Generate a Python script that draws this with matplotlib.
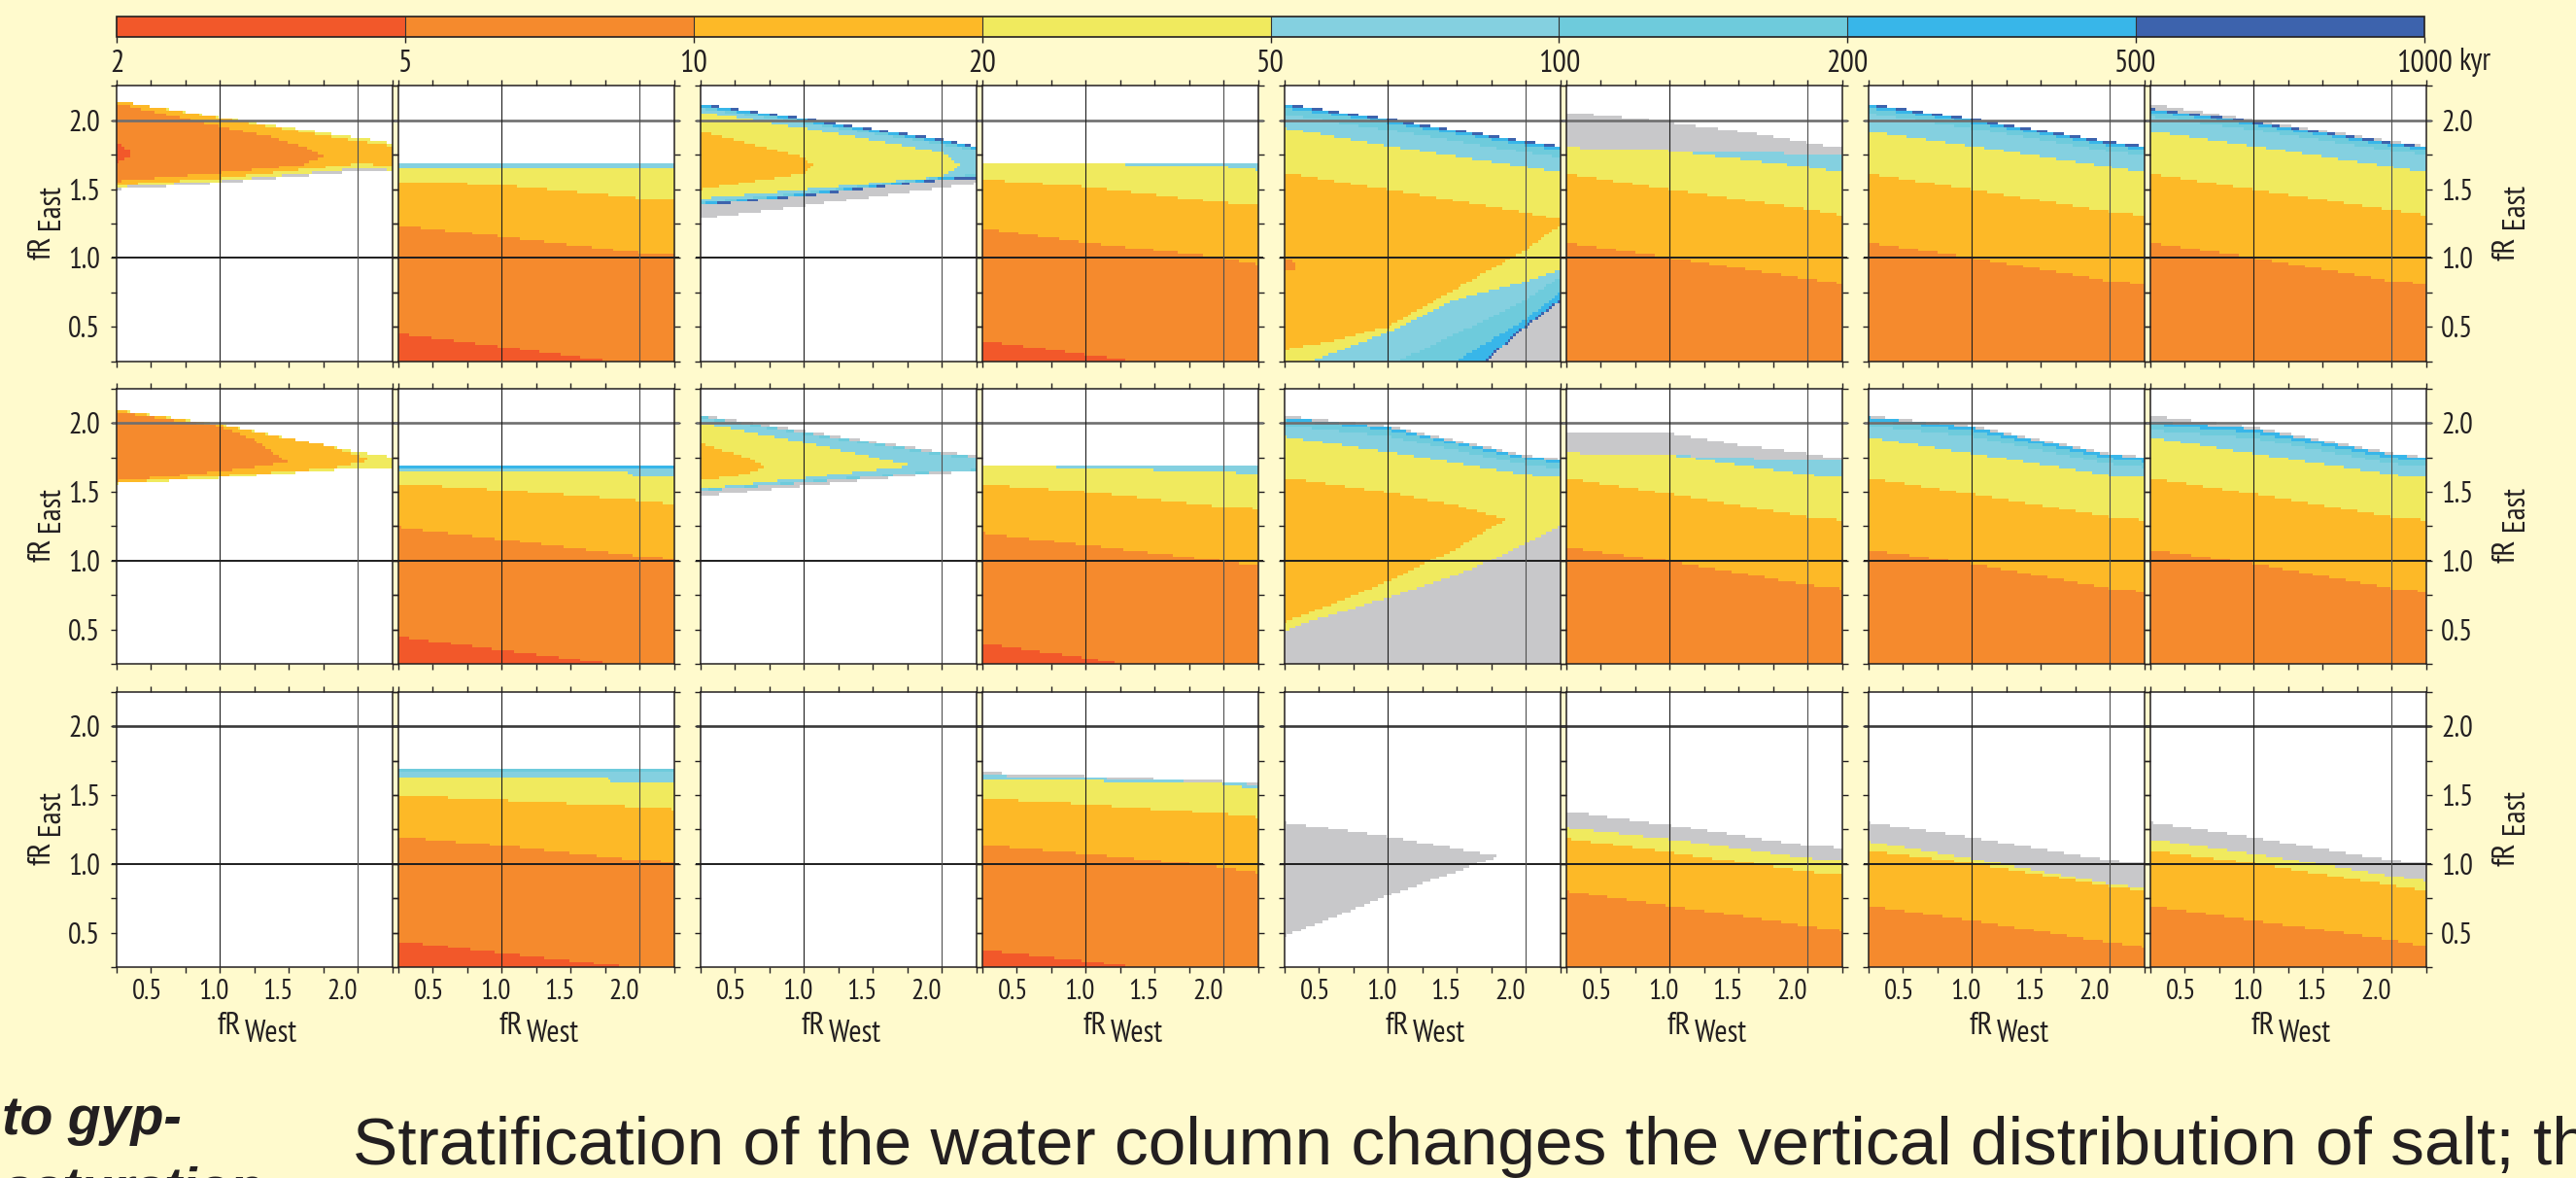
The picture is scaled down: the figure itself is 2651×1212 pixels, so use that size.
import numpy as np
import matplotlib
matplotlib.use("Agg")
import matplotlib.pyplot as plt
from matplotlib.colors import ListedColormap, BoundaryNorm
from matplotlib.cm import ScalarMappable
from matplotlib import font_manager as fm

# ---------------- data ----------------
levels = [2, 5, 10, 20, 50, 100, 200, 500, 1000]
level_labels = ["2", "5", "10", "20", "50", "100", "200", "500", "1000"]
level_colors = ["#F2582A", "#F58A2D", "#FDB927", "#F0EA5E",
                "#84D0E0", "#6ECBDC", "#38B6E9", "#3D63AD"]
gray_color = "#C8C8CA"
R, O, G, Y, LB, C, B, DB, GR = range(9)   # band codes (GR = gray)

xtick_vals = [0.5, 1.0, 1.5, 2.0]
xtick_labels = ["0.5", "1.0", "1.5", "2.0"]
ytick_vals = [0.5, 1.0, 1.5, 2.0]
ytick_labels = ["0.5", "1.0", "1.5", "2.0"]
XN = [0.25, 1.0, 2.0, 2.25]
F = None  # layer starts at the floor of the panel

# each layer: (band, x nodes, lower boundary, upper boundary); painted in order
r1c1 = [
    (GR, XN, [1.497, 1.545, 1.63, 1.622], [1.52, 1.565, 1.655, 1.645]),
    (Y, XN, [1.515, 1.56, 1.65, 1.638], [2.14, 2.02, 1.873, 1.833]),
    (G, XN, [1.53, 1.58, 1.685, 1.673], [2.14, 2.014, 1.85, 1.814]),
    (O, [0.25, 1.0, 1.35, 1.6, 1.76], [1.556, 1.62, 1.65, 1.68, 1.74], [2.12, 1.956, 1.885, 1.81, 1.74]),
    (R, [0.25, 0.35], [1.685, 1.745], [1.84, 1.775]),
]
r1c2 = [
    (B, XN, F, [1.70, 1.70, 1.70, 1.70]),
    (LB, XN, F, [1.685, 1.685, 1.685, 1.685]),
    (Y, [0.25, 0.45, 0.5, 2.25], F, [1.66, 1.66, 1.642, 1.642]),
    (G, XN, F, [1.56, 1.53, 1.438, 1.42]),
    (O, XN, F, [1.238, 1.156, 1.038, 1.02]),
    (R, [0.25, 1.0, 1.8, 2.25], F, [0.45, 0.356, 0.25, 0.2]),
]
r1c3 = [
    (GR, XN, [1.285, 1.38, 1.51, 1.544], [1.39, 1.46, 1.577, 1.59]),
    (DB, XN, [1.38, 1.45, 1.567, 1.58], [2.12, 2.014, 1.862, 1.814]),
    (B, XN, [1.388, 1.458, 1.575, 1.588], [2.11, 2.004, 1.852, 1.804]),
    (C, XN, [1.396, 1.466, 1.583, 1.596], [2.098, 1.992, 1.84, 1.792]),
    (LB, XN, [1.404, 1.474, 1.591, 1.604], [2.085, 1.979, 1.827, 1.779]),
    (Y, [0.25, 1.0, 2.0, 2.14], [1.433, 1.497, 1.59, 1.673], [2.06, 1.944, 1.767, 1.673]),
    (G, [0.25, 1.0, 1.07], [1.497, 1.614, 1.673], [1.92, 1.732, 1.673]),
]
r1c4 = [
    (LB, XN, F, [1.692, 1.692, 1.692, 1.692]),
    (Y, [0.25, 1.2, 1.3, 2.0, 2.25], F, [1.70, 1.69, 1.68, 1.662, 1.638]),
    (G, XN, F, [1.572, 1.518, 1.403, 1.38]),
    (O, XN, F, [1.215, 1.113, 1.003, 0.955]),
    (R, [0.25, 1.0, 1.4, 2.25], F, [0.40, 0.30, 0.245, 0.1]),
]
r1c5 = [
    (DB, XN, F, [2.12, 2.01, 1.85, 1.814]),
    (B, XN, F, [2.108, 1.998, 1.838, 1.802]),
    (C, XN, F, [2.09, 1.98, 1.82, 1.784]),
    (LB, XN, F, [2.04, 1.93, 1.767, 1.73]),
    (Y, XN, F, [1.944, 1.814, 1.662, 1.62]),
    (G, XN, F, [1.619, 1.497, 1.332, 1.278]),
    (Y, [0.25, 0.6, 1.0, 1.5, 2.0, 2.25], F, [0.33, 0.40, 0.50, 0.78, 1.06, 1.24]),
    (LB, [0.25, 0.44, 1.0, 1.5, 2.0, 2.25], F, [0.15, 0.25, 0.46, 0.70, 0.83, 0.91]),
    (C, [0.25, 1.07, 1.5, 2.0, 2.25], F, [-0.2, 0.25, 0.45, 0.70, 0.86]),
    (B, [0.25, 1.49, 2.0, 2.25], F, [-0.4, 0.25, 0.555, 0.75]),
    (DB, [0.25, 1.71, 2.0, 2.25], F, [-0.5, 0.265, 0.515, 0.70]),
    (GR, [0.25, 1.71, 2.0, 2.25], F, [-0.5, 0.25, 0.50, 0.685]),
    (O, [0.25, 0.32], [0.897, 0.92], [1.0, 0.98]),
]
r1c6 = [
    (GR, [0.25, 0.5, 1.0, 1.5, 2.0, 2.25], F, [2.06, 2.035, 1.985, 1.92, 1.838, 1.80]),
    (LB, [0.25, 1.0, 1.22, 2.0, 2.25], F, [1.803, 1.78, 1.775, 1.756, 1.744]),
    (Y, XN, F, [1.803, 1.78, 1.662, 1.619]),
    (G, XN, F, [1.614, 1.497, 1.356, 1.313]),
    (O, XN, F, [1.113, 1.003, 0.85, 0.814]),
]
r1c7 = [
    (DB, XN, F, [2.12, 2.01, 1.845, 1.814]),
    (B, XN, F, [2.108, 1.998, 1.833, 1.802]),
    (C, XN, F, [2.09, 1.98, 1.815, 1.784]),
    (LB, XN, F, [2.05, 1.94, 1.775, 1.744]),
    (Y, XN, F, [1.92, 1.814, 1.662, 1.619]),
    (G, XN, F, [1.614, 1.497, 1.337, 1.313]),
    (O, XN, F, [1.113, 1.003, 0.833, 0.81]),
]
r1c8 = [
    (GR, XN, F, [2.12, 2.0, 1.85, 1.814]),
    (DB, XN, F, [2.085, 1.99, 1.84, 1.81]),
    (B, XN, F, [2.075, 1.98, 1.83, 1.80]),
    (C, XN, F, [2.06, 1.965, 1.815, 1.785]),
    (LB, XN, F, [2.025, 1.93, 1.78, 1.75]),
    (Y, XN, F, [1.92, 1.814, 1.662, 1.619]),
    (G, XN, F, [1.614, 1.497, 1.35, 1.313]),
    (O, XN, F, [1.113, 1.003, 0.833, 0.81]),
]

r2c1 = [
    (Y, XN, [1.559, 1.601, 1.672, 1.679], [2.095, 1.99, 1.79, 1.754]),
    (G, [0.25, 1.0, 1.8, 2.1], [1.565, 1.615, 1.67, 1.73], [2.09, 1.985, 1.83, 1.73]),
    (O, [0.25, 1.0, 1.25, 1.49], [1.578, 1.648, 1.68, 1.714], [2.08, 1.975, 1.88, 1.714]),
]
r2c2 = [
    (B, XN, F, [1.695, 1.695, 1.695, 1.695]),
    (LB, XN, F, [1.677, 1.677, 1.677, 1.677]),
    (Y, [0.25, 1.9, 1.95, 2.25], F, [1.644, 1.644, 1.62, 1.62]),
    (G, XN, F, [1.559, 1.514, 1.437, 1.413]),
    (O, XN, F, [1.242, 1.155, 1.033, 1.014]),
    (R, [0.25, 1.0, 1.78, 2.25], F, [0.45, 0.351, 0.254, 0.2]),
]
r2c3 = [
    (GR, XN, [1.465, 1.543, 1.637, 1.648], [2.06, 1.942, 1.79, 1.766]),
    (C, XN, [1.507, 1.566, 1.648, 1.653], [2.048, 1.93, 1.778, 1.754]),
    (LB, XN, [1.515, 1.574, 1.656, 1.661], [2.036, 1.918, 1.766, 1.742]),
    (Y, [0.25, 1.0, 1.79], [1.52, 1.60, 1.69], [2.0, 1.86, 1.69]),
    (G, [0.25, 0.57, 0.73], [1.58, 1.625, 1.684], [1.85, 1.754, 1.684]),
]
r2c4 = [
    (LB, XN, F, [1.695, 1.695, 1.695, 1.695]),
    (Y, [0.25, 0.6, 0.65, 1.5, 2.1, 2.25], F, [1.70, 1.70, 1.684, 1.66, 1.64, 1.625]),
    (G, XN, F, [1.554, 1.5, 1.39, 1.378]),
    (O, XN, F, [1.202, 1.112, 0.997, 0.96]),
    (R, [0.25, 1.0, 1.3, 2.25], F, [0.40, 0.295, 0.245, 0.1]),
]
r2c5 = [
    (GR, XN, F, [2.053, 1.978, 1.766, 1.738]),
    (B, XN, F, [2.041, 1.966, 1.754, 1.726]),
    (C, XN, F, [2.023, 1.948, 1.736, 1.708]),
    (LB, XN, F, [1.98, 1.905, 1.696, 1.668]),
    (Y, XN, F, [1.902, 1.79, 1.625, 1.601]),
    (G, [0.25, 0.66, 1.0, 1.3, 1.5, 1.72, 1.865],
        [0.555, 0.708, 0.85, 0.995, 1.084, 1.225, 1.296],
        [1.601, 1.544, 1.496, 1.44, 1.402, 1.338, 1.296]),
    (GR, [0.25, 0.376, 0.657, 1.0, 1.5, 1.78, 2.0, 2.25], F,
         [0.485, 0.544, 0.626, 0.732, 0.896, 1.014, 1.12, 1.249]),
]
r2c6 = [
    (GR, [0.25, 1.0, 1.5, 2.0, 2.25], F, [1.935, 1.925, 1.84, 1.778, 1.74]),
    (LB, [0.25, 1.0, 1.5, 2.0, 2.25], F, [1.782, 1.766, 1.745, 1.722, 1.72]),
    (Y, XN, F, [1.782, 1.766, 1.625, 1.601]),
    (G, XN, F, [1.597, 1.484, 1.319, 1.296]),
    (O, XN, F, [1.096, 0.995, 0.826, 0.797]),
]
r2c7 = [
    (GR, XN, F, [2.053, 1.978, 1.778, 1.754]),
    (B, XN, F, [2.043, 1.968, 1.768, 1.744]),
    (C, XN, F, [2.018, 1.943, 1.743, 1.719]),
    (LB, XN, F, [1.978, 1.903, 1.703, 1.679]),
    (Y, XN, F, [1.895, 1.778, 1.62, 1.601]),
    (G, XN, F, [1.6, 1.484, 1.319, 1.296]),
    (O, XN, F, [1.08, 0.978, 0.8, 0.774]),
]
r2c8 = [
    (GR, XN, F, [2.053, 1.97, 1.782, 1.754]),
    (B, XN, F, [2.013, 1.954, 1.77, 1.748]),
    (C, XN, F, [1.988, 1.929, 1.745, 1.723]),
    (LB, XN, F, [1.948, 1.889, 1.705, 1.683]),
    (Y, XN, F, [1.895, 1.778, 1.625, 1.601]),
    (G, XN, F, [1.6, 1.484, 1.319, 1.296]),
    (O, XN, F, [1.08, 0.978, 0.8, 0.774]),
]

r3c1 = []
r3c2 = [
    (B, XN, F, [1.697, 1.697, 1.697, 1.697]),
    (C, XN, F, [1.681, 1.681, 1.681, 1.681]),
    (LB, XN, F, [1.665, 1.665, 1.665, 1.665]),
    (Y, [0.25, 1.75, 1.8, 2.25], F, [1.638, 1.638, 1.598, 1.598]),
    (G, XN, F, [1.497, 1.462, 1.415, 1.398]),
    (O, XN, F, [1.196, 1.133, 1.027, 1.015]),
    (R, [0.25, 1.0, 1.95, 2.25], F, [0.44, 0.355, 0.25, 0.22]),
]
r3c3 = []
r3c4 = [
    (GR, XN, F, [1.665, 1.64, 1.60, 1.59]),
    (LB, XN, F, [1.645, 1.625, 1.59, 1.575]),
    (Y, XN, F, [1.615, 1.603, 1.58, 1.544]),
    (G, XN, F, [1.474, 1.434, 1.363, 1.337]),
    (O, XN, F, [1.137, 1.074, 0.975, 0.937]),
    (R, [0.25, 1.0, 1.38, 2.25], F, [0.375, 0.297, 0.25, 0.15]),
]
r3c5 = [
    (GR, [0.25, 1.0, 1.81], [0.474, 0.768, 1.055], [1.304, 1.198, 1.055]),
]
r3c6 = [
    (GR, XN, F, [1.38, 1.281, 1.132, 1.116]),
    (Y, XN, F, [1.262, 1.18, 1.043, 1.02]),
    (G, XN, F, [1.184, 1.085, 0.944, 0.921]),
    (O, XN, F, [0.803, 0.697, 0.551, 0.516]),
]
r3c7 = [
    (GR, XN, F, [1.304, 1.191, 1.027, 1.003]),
    (Y, XN, F, [1.163, 1.038, 0.855, 0.826]),
    (G, XN, F, [1.097, 1.003, 0.838, 0.808]),
    (O, XN, F, [0.697, 0.591, 0.431, 0.398]),
]
r3c8 = [
    (GR, XN, F, [1.304, 1.191, 1.027, 1.003]),
    (Y, XN, F, [1.18, 1.074, 0.913, 0.878]),
    (G, XN, F, [1.097, 1.003, 0.845, 0.808]),
    (O, XN, F, [0.697, 0.591, 0.45, 0.398]),
]

panels = [
    [r1c1, r1c2, r1c3, r1c4, r1c5, r1c6, r1c7, r1c8],
    [r2c1, r2c2, r2c3, r2c4, r2c5, r2c6, r2c7, r2c8],
    [r3c1, r3c2, r3c3, r3c4, r3c5, r3c6, r3c7, r3c8],
]

caption = "Stratification of the water column changes the vertical distribution of salt; the"
side_lines = ["to gyp-", "saturation"]

# ---------------- style ----------------
BG = "#FFFACD"
INK = "#231F20"
_names = {f.name for f in fm.fontManager.ttflist}
COND_FAMILY = "DejaVu Sans"
for _cand in ["Myriad Pro Condensed", "PT Sans Narrow", "Fira Sans Condensed",
              "Roboto Condensed", "Archivo Narrow", "Liberation Sans Narrow",
              "Source Sans 3", "Source Sans Pro", "Liberation Sans"]:
    if _cand in _names:
        COND_FAMILY = _cand
        break
CAP_FAMILY = "Liberation Sans" if "Liberation Sans" in _names else "DejaVu Sans"
plt.rcParams["font.family"] = [COND_FAMILY, "DejaVu Sans"]
plt.rcParams["text.color"] = INK

W, H = 2651, 1212
fig = plt.figure(figsize=(W / 100, H / 100), dpi=100, facecolor=BG)


def fx(px):
    return px / W


def fy(py):
    return 1 - py / H


cmap9 = ListedColormap(level_colors + [gray_color])
cmap9.set_bad((1, 1, 1, 0))
norm9 = BoundaryNorm(np.arange(-0.5, 9.5, 1.0), 9)

xe = np.linspace(0.25, 2.25, 101)
ye = np.linspace(0.25, 2.25, 101)
XC, YC = np.meshgrid(0.5 * (xe[1:] + xe[:-1]), 0.5 * (ye[1:] + ye[:-1]))


def rasterize(layers):
    Z = np.full(XC.shape, -1)
    for code, xs, lo, hi in layers:
        xs = np.asarray(xs, float)
        inside = (XC >= xs[0] - 1e-9) & (XC <= xs[-1] + 1e-9)
        top = np.interp(XC, xs, hi)
        bot = -np.inf if lo is None else np.interp(XC, xs, lo)
        Z[inside & (YC >= bot) & (YC < top)] = code
    return np.ma.masked_less(Z, 0)


pair_left = [119.6, 720.6, 1321.6, 1922.6]
inner_off = 290.2
panel_w, panel_h = 284.0, 283.5
row_top = [88.3, 399.7, 711.7]
xlab_off = [0.475, 0.955, 1.42, 1.885]

TICK_FS = 22
LAB_FS = 24
SUB_FS = 23

for r in range(3):
    for c in range(8):
        left = pair_left[c // 2] + (c % 2) * inner_off
        ax = fig.add_axes([fx(left), fy(row_top[r] + panel_h), panel_w / W, panel_h / H])
        ax.set_facecolor("white")
        ax.pcolormesh(xe, ye, rasterize(panels[r][c]), cmap=cmap9, norm=norm9,
                      shading="flat", antialiased=False, edgecolors="none", zorder=1)
        ax.set_xlim(0.25, 2.25)
        ax.set_ylim(0.25, 2.25)
        hcol = "#6f6f6f" if r < 2 else "#3a3a3a"
        ax.plot([0.215, 2.285], [2.0, 2.0], color=hcol, lw=1.9, clip_on=False, zorder=4,
                solid_capstyle="butt")
        ax.plot([0.215, 2.285], [1.0, 1.0], color="#1e1e1e", lw=1.4, clip_on=False, zorder=4,
                solid_capstyle="butt")
        ax.axvline(1.0, color="#1e1e1e", lw=0.8, zorder=4)
        ax.axvline(2.0, color="#505050", lw=0.8, zorder=4)
        for s in ax.spines.values():
            s.set_linewidth(1.1)
            s.set_color(INK)
            s.set_zorder(5)
        ax.set_xticks(xtick_vals)
        ax.set_xticks([0.25, 0.75, 1.25, 1.75, 2.25], minor=True)
        ax.set_yticks(ytick_vals)
        ax.set_yticks([0.25, 0.75, 1.25, 1.75, 2.25], minor=True)
        ax.set_yticklabels(ytick_labels)
        ax.tick_params(which="both", direction="out", length=4, width=1.0, color=INK,
                       top=True, right=True, bottom=True, left=True,
                       labelbottom=False, labeltop=False,
                       labelleft=(c == 0), labelright=(c == 7), labelsize=TICK_FS,
                       labelcolor=INK)
        ax.tick_params(axis="y", which="major", pad=(8 if c == 0 else 7))
        if r == 2:
            for xv, lab in zip(xlab_off, xtick_labels):
                ax.annotate(lab, xy=(xv, 0), xycoords=ax.get_xaxis_transform(),
                            xytext=(0, -12), textcoords="offset pixels",
                            ha="center", va="top", fontsize=TICK_FS - 1, color=INK)
            cx = left + panel_w / 2
            fig.text(fx(cx - 14), fy(1064), "fR", ha="right", va="baseline",
                     fontsize=LAB_FS, color=INK)
            fig.text(fx(cx - 10), fy(1072.5), "West", ha="left", va="baseline",
                     fontsize=SUB_FS, color=INK)

    rc = row_top[r] + panel_h / 2
    fig.text(fx(52), fy(rc + 12), "fR", rotation=90, rotation_mode="anchor",
             ha="right", va="baseline", fontsize=LAB_FS, color=INK)
    fig.text(fx(61), fy(rc + 5.5), "East", rotation=90, rotation_mode="anchor",
             ha="left", va="baseline", fontsize=SUB_FS, color=INK)
    fig.text(fx(2588), fy(rc + 13), "fR", rotation=90, rotation_mode="anchor",
             ha="right", va="baseline", fontsize=LAB_FS, color=INK)
    fig.text(fx(2597), fy(rc + 5), "East", rotation=90, rotation_mode="anchor",
             ha="left", va="baseline", fontsize=SUB_FS, color=INK)

# ---------------- colour bar ----------------
cax = fig.add_axes([fx(120), fy(38.3), (2495 - 120) / W, 21.0 / H])
cmap8 = ListedColormap(level_colors)
norm8 = BoundaryNorm(levels, 8)
cb = fig.colorbar(ScalarMappable(norm=norm8, cmap=cmap8), cax=cax,
                  orientation="horizontal", spacing="uniform", ticks=levels,
                  drawedges=True)
cb.set_ticklabels(level_labels)
cb.outline.set_linewidth(1.2)
cb.outline.set_edgecolor(INK)
cb.dividers.set_color("#333333")
cb.dividers.set_linewidth(0.8)
cax.tick_params(direction="out", length=4, width=1.0, color=INK, labelsize=23,
                pad=5, labelcolor=INK)
cax.minorticks_off()
fig.text(fx(2530), fy(72), "kyr", ha="left", va="baseline", fontsize=23, color=INK)

# ---------------- caption text ----------------
fig.text(fx(363), fy(1198), caption, ha="left", va="baseline",
         fontsize=50, family=CAP_FAMILY, color=INK)
fig.text(fx(2), fy(1167), side_lines[0], ha="left", va="baseline", fontsize=40,
         family=CAP_FAMILY, weight="bold", style="italic", color=INK)
fig.text(fx(2), fy(1240), side_lines[1], ha="left", va="baseline", fontsize=40,
         family=CAP_FAMILY, weight="bold", style="italic", color=INK)

fig.savefig("out.png", dpi=100, facecolor=BG)
